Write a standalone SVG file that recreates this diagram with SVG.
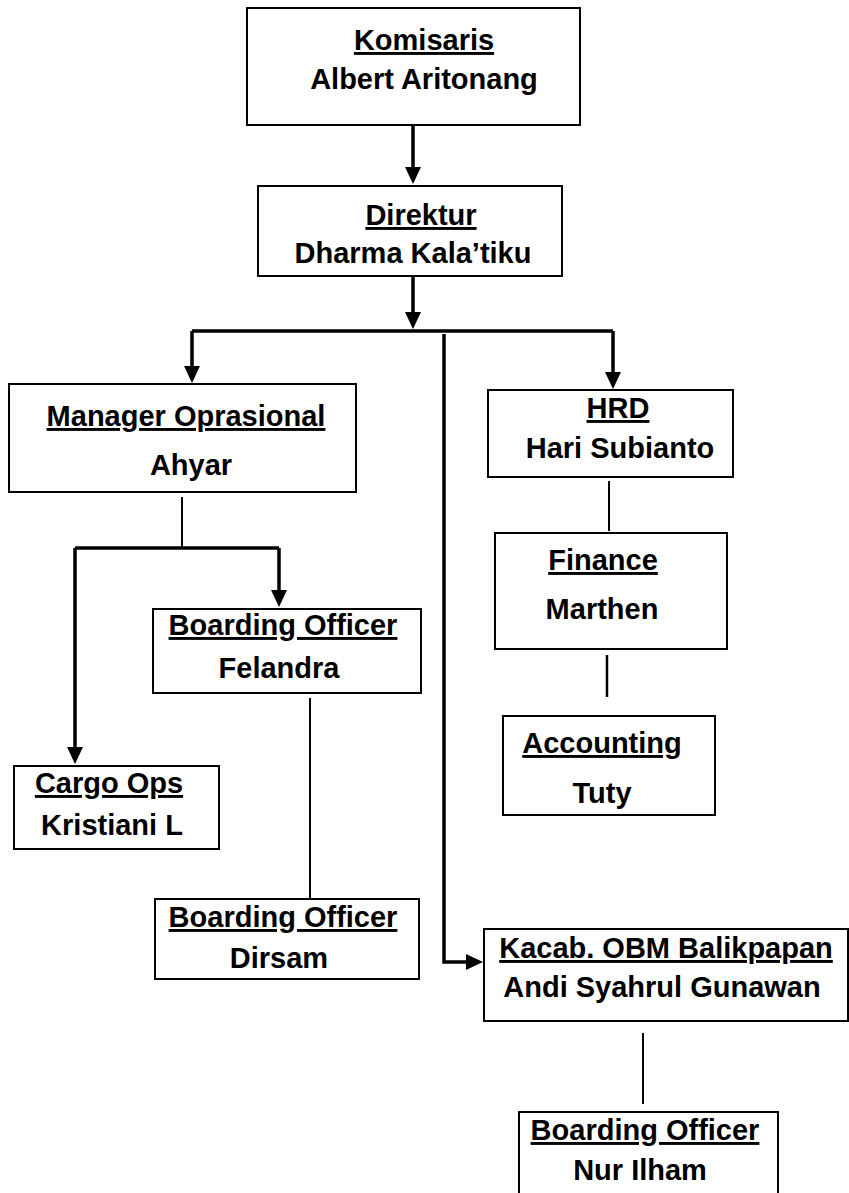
<svg xmlns="http://www.w3.org/2000/svg" width="849" height="1193" viewBox="0 0 849 1193">
<style>
.box{fill:#fff;stroke:#000;stroke-width:2}
.t{font-family:"Liberation Sans",Arial,sans-serif;font-weight:bold;font-size:29px;fill:#000;text-anchor:middle}
.u{text-decoration:underline}
.thick{fill:none;stroke:#000;stroke-width:3.5}
.thin{fill:none;stroke:#000;stroke-width:2}
.mid{fill:none;stroke:#000;stroke-width:2.5}
</style>
<defs>
<marker id="ah" markerUnits="userSpaceOnUse" markerWidth="17" markerHeight="16" refX="7" refY="8" orient="auto" viewBox="0 0 17 16">
<path d="M0,0 L17,8 L0,16 z" fill="#000"/>
</marker>
</defs>
<g id="connectors">
<path class="thick" d="M413,125 V174" marker-end="url(#ah)"/>
<path class="thick" d="M413,276 V319" marker-end="url(#ah)"/>
<path class="thick" d="M192,331 H613"/>
<path class="thick" d="M192,331 V373" marker-end="url(#ah)"/>
<path class="thick" d="M613,331 V379" marker-end="url(#ah)"/>
<path class="thick" d="M444,334 V962 H473" marker-end="url(#ah)"/>
<path class="thin" d="M182,497 V548"/>
<path class="thick" d="M75,548 H279"/>
<path class="thick" d="M279,548 V597" marker-end="url(#ah)"/>
<path class="thick" d="M75,548 V754" marker-end="url(#ah)"/>
<path class="thin" d="M310,698 V899"/>
<path class="thin" d="M609,481 V531"/>
<path class="mid" d="M607,655 V697"/>
<path class="thin" d="M643,1033 V1104"/>
</g>
<g id="komisaris">
<rect class="box" x="247" y="8" width="333" height="117"/>
<text class="t u" x="424" y="50">Komisaris</text>
<text class="t" x="424" y="89">Albert Aritonang</text>
</g>
<g id="direktur">
<rect class="box" x="258" y="186" width="304" height="90"/>
<text class="t u" x="421" y="225">Direktur</text>
<text class="t" x="413" y="263">Dharma Kala’tiku</text>
</g>
<g id="manager">
<rect class="box" x="9" y="384" width="347" height="108"/>
<text class="t u" x="186" y="426">Manager Oprasional</text>
<text class="t" x="191" y="475">Ahyar</text>
</g>
<g id="hrd">
<rect class="box" x="488" y="390" width="245" height="87"/>
<text class="t u" x="618" y="418">HRD</text>
<text class="t" x="620" y="458">Hari Subianto</text>
</g>
<g id="finance">
<rect class="box" x="495" y="533" width="232" height="116"/>
<text class="t u" x="603" y="570">Finance</text>
<text class="t" x="602" y="619">Marthen</text>
</g>
<g id="accounting">
<rect class="box" x="503" y="716" width="212" height="99"/>
<text class="t u" x="602" y="753">Accounting</text>
<text class="t" x="602" y="803">Tuty</text>
</g>
<g id="boarding-felandra">
<rect class="box" x="153" y="609" width="268" height="84"/>
<text class="t u" x="283" y="635">Boarding Officer</text>
<text class="t" x="279" y="678">Felandra</text>
</g>
<g id="cargo">
<rect class="box" x="14" y="766" width="205" height="83"/>
<text class="t u" x="109" y="793">Cargo Ops</text>
<text class="t" x="112" y="835">Kristiani L</text>
</g>
<g id="boarding-dirsam">
<rect class="box" x="155" y="899" width="264" height="80"/>
<text class="t u" x="283" y="927">Boarding Officer</text>
<text class="t" x="279" y="968">Dirsam</text>
</g>
<g id="kacab">
<rect class="box" x="484" y="929" width="364" height="92"/>
<text class="t u" x="666" y="958">Kacab. OBM Balikpapan</text>
<text class="t" x="662" y="997">Andi Syahrul Gunawan</text>
</g>
<g id="boarding-nurilham">
<rect class="box" x="519" y="1112" width="259" height="100"/>
<text class="t u" x="645" y="1140">Boarding Officer</text>
<text class="t" x="640" y="1180">Nur Ilham</text>
</g>
</svg>
